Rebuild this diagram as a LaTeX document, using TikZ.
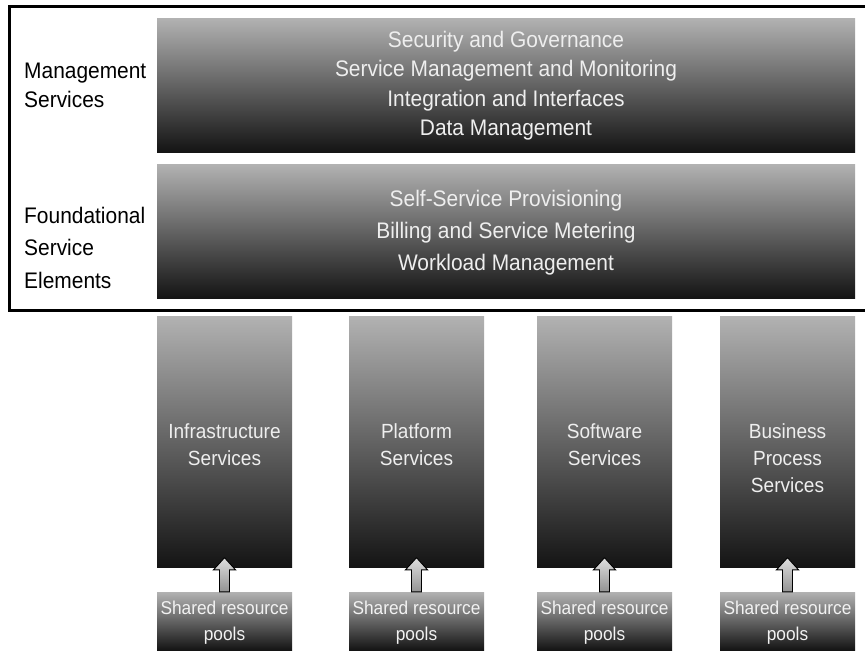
\documentclass[tikz,border=0pt]{standalone}
\usepackage{fontspec}
\setmainfont{Liberation Sans}[FakeStretch=0.93]
\usetikzlibrary{calc}
\definecolor{gtop}{RGB}{178,178,178}
\definecolor{gbot}{RGB}{20,20,20}
\definecolor{txtlight}{RGB}{238,238,238}
\tikzset{
  gbox/.style={rectangle, inner sep=0pt, top color=gtop, bottom color=gbot, draw=none},
  maintext/.style={inner sep=0pt, align=center, text=txtlight, anchor=north},
  sidetext/.style={inner sep=0pt, align=left, text=black, anchor=north west},
  blockarrow/.style={draw=black, line width=0.9pt, top color=gray!25, bottom color=gray!85, line join=miter},
  frameline/.style={draw=black, line width=3pt}
}
\begin{document}
\begin{tikzpicture}[x=1pt,y=-1pt]
\useasboundingbox (0,0) rectangle (865,653);
\fill[white] (0,0) rectangle (865,653);
% frame
\draw[frameline] (880,6) -- (9,6) -- (9,310) -- (880,310);
% upper boxes
\node[gbox, minimum width=698pt, minimum height=134pt] (mgmt) at (506,85) {};
\node[gbox, minimum width=698pt, minimum height=134pt] (found) at (506,231) {};
\node[maintext, font=\fontsize{22.5}{29.3}\selectfont] (mgmttxt) at (506,26.8)
  {\strut Security and Governance\\Service Management and Monitoring\\Integration and Interfaces\\Data Management};
\node[maintext, font=\fontsize{22.5}{31.7}\selectfont] (foundtxt) at (506,184.5)
  {\strut Self-Service Provisioning\\Billing and Service Metering\\Workload Management};
% side labels
\node[sidetext, font=\fontsize{22.5}{29}\selectfont] (mgmtlab) at (24,58)
  {\strut Management\\Services};
\node[sidetext, font=\fontsize{22.5}{32.5}\selectfont] (foundlab) at (24,200.5)
  {\strut Foundational\\Service\\Elements};
% columns
\foreach \i/\cx in {1/224.5,2/416.5,3/604.5,4/787.5}{
  \node[gbox, minimum width=135pt, minimum height=251pt] (c\i) at (\cx,441.5) {};
  \node[gbox, minimum width=135pt, minimum height=58pt] (p\i) at (\cx,621) {};
  \node[maintext, font=\fontsize{18.6}{26}\selectfont, text=white!95!black] (pt\i) at (\cx,595.8)
    {\strut Shared resource\\pools};
}
\node[maintext, font=\fontsize{20.5}{27}\selectfont] (ct1) at (c1 |- 0,419.4) {\strut Infrastructure\\Services};
\node[maintext, font=\fontsize{20.5}{27}\selectfont] (ct2) at (c2 |- 0,419.4) {\strut Platform\\Services};
\node[maintext, font=\fontsize{20.5}{27}\selectfont] (ct3) at (c3 |- 0,419.4) {\strut Software\\Services};
\node[maintext, font=\fontsize{20.5}{27}\selectfont] (ct4) at (c4 |- 0,419.4) {\strut Business\\Process\\Services};
% arrows
\foreach \i in {1,...,4}{
  \draw[blockarrow] ($(p\i.north)+(-5,0)$) -- ($(p\i.north)+(-5,-22)$) -- ($(p\i.north)+(-11,-22)$)
    -- ($(c\i.south)+(0,-9.5)$) -- ($(p\i.north)+(11,-22)$) -- ($(p\i.north)+(5,-22)$)
    -- ($(p\i.north)+(5,0)$) -- cycle;
}
\end{tikzpicture}
\end{document}
